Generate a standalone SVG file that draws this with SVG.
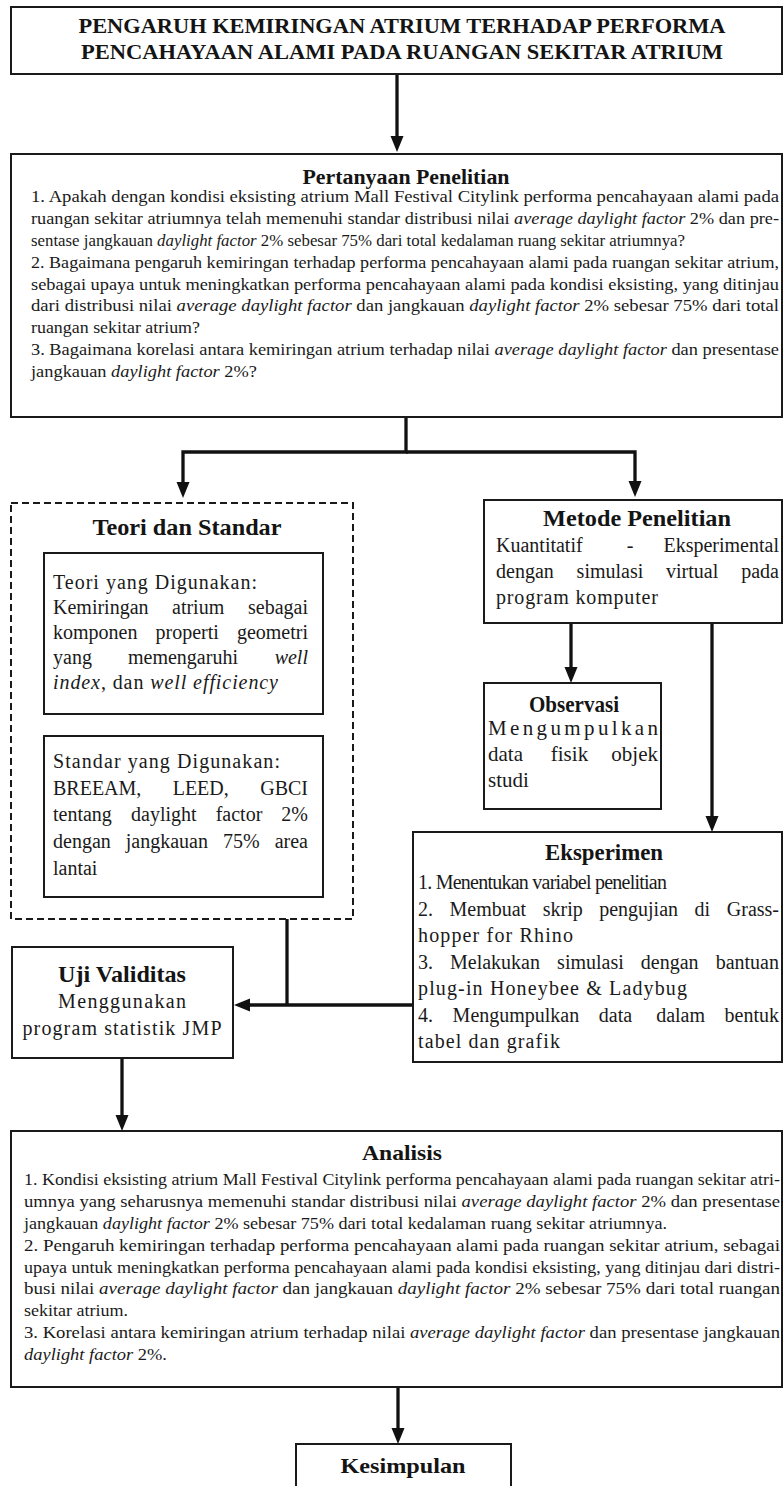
<svg xmlns="http://www.w3.org/2000/svg" width="784" height="1486" viewBox="0 0 784 1486">
<style>
.box{fill:#fff;stroke:#1a1a1a;stroke-width:2}
.dash{fill:none;stroke:#1a1a1a;stroke-width:2;stroke-dasharray:7 4}
.conn{fill:none;stroke:#111;stroke-width:3.3;stroke-linejoin:miter}
.h{font-family:'Liberation Serif','Times New Roman',serif;font-weight:bold;fill:#141414}
.t{font-family:'Liberation Serif','Times New Roman',serif;fill:#1a1a1a}
.q{font-size:17px}
.m{font-size:20px}
.i{font-style:italic}
.e{text-anchor:end}
.c{text-anchor:middle}
</style>
<defs>
<marker id="arr" markerUnits="userSpaceOnUse" markerWidth="18" markerHeight="14" refX="2" refY="6.5" orient="auto">
<path d="M0,0 L16,6.5 L0,13 Z" fill="#111"/>
</marker>
</defs>
<rect x="0" y="0" width="784" height="1486" fill="#fff"/>

<g id="connectors">
<line class="conn" x1="397" y1="74" x2="397" y2="138" marker-end="url(#arr)"/>
<path class="conn" d="M406,417 V452 H183 V484" marker-end="url(#arr)"/>
<path class="conn" d="M406,452 H635 V483" marker-end="url(#arr)"/>
<line class="conn" x1="571" y1="623" x2="571" y2="669" marker-end="url(#arr)"/>
<line class="conn" x1="712" y1="623" x2="712" y2="818" marker-end="url(#arr)"/>
<path class="conn" d="M287,919 V1005"/>
<line class="conn" x1="413" y1="1005" x2="248" y2="1005" marker-end="url(#arr)"/>
<line class="conn" x1="122" y1="1058" x2="122" y2="1117" marker-end="url(#arr)"/>
<line class="conn" x1="398" y1="1387" x2="398" y2="1430" marker-end="url(#arr)"/>
</g>

<g id="title">
<rect class="box" x="11" y="7" width="771" height="67"/>
<text class="h c" x="402" y="33" font-size="22" textLength="647" lengthAdjust="spacingAndGlyphs">PENGARUH KEMIRINGAN ATRIUM TERHADAP PERFORMA</text>
<text class="h c" x="402" y="59" font-size="22" textLength="642" lengthAdjust="spacingAndGlyphs">PENCAHAYAAN ALAMI PADA RUANGAN SEKITAR ATRIUM</text>
</g>

<g id="pertanyaan">
<rect class="box" x="11" y="154" width="771" height="263"/>
<text class="h c" x="406" y="184" font-size="20" textLength="207" lengthAdjust="spacingAndGlyphs">Pertanyaan Penelitian</text>
<text class="t q" x="31" y="202" textLength="748" lengthAdjust="spacingAndGlyphs">1. Apakah dengan kondisi eksisting atrium Mall Festival Citylink performa pencahayaan alami pada</text>
<text class="t q" x="31" y="224" textLength="748" lengthAdjust="spacingAndGlyphs">ruangan sekitar atriumnya telah memenuhi standar distribusi nilai <tspan class="i">average daylight factor</tspan> 2% dan pre-</text>
<text class="t q" x="31" y="246" textLength="654" lengthAdjust="spacingAndGlyphs">sentase jangkauan <tspan class="i">daylight factor</tspan> 2% sebesar 75% dari total kedalaman ruang sekitar atriumnya?</text>
<text class="t q" x="31" y="268" textLength="748" lengthAdjust="spacingAndGlyphs">2. Bagaimana pengaruh kemiringan terhadap performa pencahayaan alami pada ruangan sekitar atrium,</text>
<text class="t q" x="31" y="290" textLength="748" lengthAdjust="spacingAndGlyphs">sebagai upaya untuk meningkatkan performa pencahayaan alami pada kondisi eksisting, yang ditinjau</text>
<text class="t q" x="31" y="311" textLength="748" lengthAdjust="spacingAndGlyphs">dari distribusi nilai <tspan class="i">average daylight factor</tspan> dan jangkauan <tspan class="i">daylight factor</tspan> 2% sebesar 75% dari total</text>
<text class="t q" x="31" y="333" textLength="169" lengthAdjust="spacingAndGlyphs">ruangan sekitar atrium?</text>
<text class="t q" x="31" y="355" textLength="748" lengthAdjust="spacingAndGlyphs">3. Bagaimana korelasi antara kemiringan atrium terhadap nilai <tspan class="i">average daylight factor</tspan> dan presentase</text>
<text class="t q" x="31" y="377" textLength="226" lengthAdjust="spacingAndGlyphs">jangkauan <tspan class="i">daylight factor</tspan> 2%?</text>
</g>

<g id="teori-standar">
<rect class="dash" x="11" y="503" width="342" height="416"/>
<text class="h c" x="187" y="535" font-size="24" textLength="189" lengthAdjust="spacingAndGlyphs">Teori dan Standar</text>
</g>

<g id="teori">
<rect class="box" x="44" y="553" width="279" height="161"/>
<text class="t m" x="53" y="589" textLength="204" lengthAdjust="spacing">Teori yang Digunakan:</text>
<text class="t m" y="614"><tspan x="53">Kemiringan</tspan><tspan x="172">atrium</tspan><tspan class="e" x="308">sebagai</tspan></text>
<text class="t m" y="639"><tspan x="53">komponen</tspan><tspan x="155.5">properti</tspan><tspan class="e" x="308">geometri</tspan></text>
<text class="t m" y="664"><tspan x="53">yang</tspan><tspan x="128">memengaruhi</tspan><tspan class="e i" x="308">well</tspan></text>
<text class="t m" x="53" y="689" textLength="225" lengthAdjust="spacing"><tspan class="i">index</tspan>, dan <tspan class="i">well efficiency</tspan></text>
</g>

<g id="standar">
<rect class="box" x="44" y="736" width="279" height="161"/>
<text class="t m" x="53" y="768" textLength="227" lengthAdjust="spacing">Standar yang Digunakan:</text>
<text class="t m" y="795"><tspan x="53">BREEAM,</tspan><tspan x="172.7">LEED,</tspan><tspan class="e" x="308">GBCI</tspan></text>
<text class="t m" y="821"><tspan x="53">tentang</tspan><tspan x="131">daylight</tspan><tspan x="215.7">factor</tspan><tspan class="e" x="308">2%</tspan></text>
<text class="t m" y="848"><tspan x="53">dengan</tspan><tspan x="125.8">jangkauan</tspan><tspan x="223">75%</tspan><tspan class="e" x="308">area</tspan></text>
<text class="t m" x="53" y="875">lantai</text>
</g>

<g id="metode">
<rect class="box" x="484" y="500" width="298" height="123"/>
<text class="h c" x="637" y="526" font-size="24" textLength="188" lengthAdjust="spacingAndGlyphs">Metode Penelitian</text>
<text class="t m" y="552"><tspan x="496">Kuantitatif</tspan><tspan class="c" x="630">-</tspan><tspan class="e" x="779">Eksperimental</tspan></text>
<text class="t m" y="578"><tspan x="496">dengan</tspan><tspan x="576.6">simulasi</tspan><tspan x="666">virtual</tspan><tspan class="e" x="779">pada</tspan></text>
<text class="t m" x="496" y="604" textLength="162" lengthAdjust="spacing">program komputer</text>
</g>

<g id="observasi">
<rect class="box" x="484" y="683" width="177" height="126"/>
<text class="h c" x="574" y="712" font-size="23" textLength="90" lengthAdjust="spacingAndGlyphs">Observasi</text>
<text class="t" font-size="21" x="488" y="735" textLength="170" lengthAdjust="spacing">Mengumpulkan</text>
<text class="t" font-size="21" y="761"><tspan x="488">data</tspan><tspan x="550.8">fisik</tspan><tspan class="e" x="658">objek</tspan></text>
<text class="t" font-size="21" x="488" y="787">studi</text>
</g>

<g id="eksperimen">
<rect class="box" x="413" y="832" width="369" height="230"/>
<text class="h c" x="604" y="860" font-size="23" textLength="118" lengthAdjust="spacingAndGlyphs">Eksperimen</text>
<text class="t m" x="418" y="889" textLength="249" lengthAdjust="spacing">1. Menentukan variabel penelitian</text>
<text class="t m" y="915.5"><tspan x="418">2.</tspan><tspan x="449.5">Membuat</tspan><tspan x="542.7">skrip</tspan><tspan x="599.2">pengujian</tspan><tspan x="694.6">di</tspan><tspan class="e" x="779">Grass-</tspan></text>
<text class="t m" x="418" y="942" textLength="155" lengthAdjust="spacing">hopper for Rhino</text>
<text class="t m" y="968.5"><tspan x="418">3.</tspan><tspan x="450">Melakukan</tspan><tspan x="557.1">simulasi</tspan><tspan x="640.8">dengan</tspan><tspan class="e" x="779">bantuan</tspan></text>
<text class="t m" x="418" y="995" textLength="269" lengthAdjust="spacing">plug-in Honeybee &amp; Ladybug</text>
<text class="t m" y="1021.5"><tspan x="418">4.</tspan><tspan x="452.6">Mengumpulkan</tspan><tspan x="598.8">data</tspan><tspan x="656.2">dalam</tspan><tspan class="e" x="779">bentuk</tspan></text>
<text class="t m" x="418" y="1048" textLength="142" lengthAdjust="spacing">tabel dan grafik</text>
</g>

<g id="uji-validitas">
<rect class="box" x="12" y="947" width="221" height="111"/>
<text class="h c" x="122" y="982" font-size="23" textLength="128" lengthAdjust="spacingAndGlyphs">Uji Validitas</text>
<text class="t m c" x="122" y="1008" textLength="128" lengthAdjust="spacing">Menggunakan</text>
<text class="t m c" x="122" y="1035" textLength="199" lengthAdjust="spacing">program statistik JMP</text>
</g>

<g id="analisis">
<rect class="box" x="11" y="1131" width="771" height="256"/>
<text class="h c" x="402" y="1160" font-size="21" textLength="80" lengthAdjust="spacingAndGlyphs">Analisis</text>
<text class="t q" x="24" y="1185" textLength="756" lengthAdjust="spacingAndGlyphs">1. Kondisi eksisting atrium Mall Festival Citylink performa pencahayaan alami pada ruangan sekitar atri-</text>
<text class="t q" x="24" y="1207" textLength="756" lengthAdjust="spacingAndGlyphs">umnya yang seharusnya memenuhi standar distribusi nilai <tspan class="i">average daylight factor</tspan> 2% dan presentase</text>
<text class="t q" x="24" y="1229" textLength="643" lengthAdjust="spacingAndGlyphs">jangkauan <tspan class="i">daylight factor</tspan> 2% sebesar 75% dari total kedalaman ruang sekitar atriumnya.</text>
<text class="t q" x="24" y="1251" textLength="756" lengthAdjust="spacingAndGlyphs">2. Pengaruh kemiringan terhadap performa pencahayaan alami pada ruangan sekitar atrium, sebagai</text>
<text class="t q" x="24" y="1273" textLength="756" lengthAdjust="spacingAndGlyphs">upaya untuk meningkatkan performa pencahayaan alami pada kondisi eksisting, yang ditinjau dari distri-</text>
<text class="t q" x="24" y="1294" textLength="756" lengthAdjust="spacingAndGlyphs">busi nilai <tspan class="i">average daylight factor</tspan> dan jangkauan <tspan class="i">daylight factor</tspan> 2% sebesar 75% dari total ruangan</text>
<text class="t q" x="24" y="1316" textLength="104" lengthAdjust="spacingAndGlyphs">sekitar atrium.</text>
<text class="t q" x="24" y="1338" textLength="756" lengthAdjust="spacingAndGlyphs">3. Korelasi antara kemiringan atrium terhadap nilai <tspan class="i">average daylight factor</tspan> dan presentase jangkauan</text>
<text class="t q" x="24" y="1360" textLength="143" lengthAdjust="spacingAndGlyphs"><tspan class="i">daylight factor</tspan> 2%.</text>
</g>

<g id="kesimpulan">
<rect class="box" x="296" y="1444" width="215" height="60"/>
<text class="h c" x="403" y="1473" font-size="22" textLength="125" lengthAdjust="spacingAndGlyphs">Kesimpulan</text>
</g>
</svg>
